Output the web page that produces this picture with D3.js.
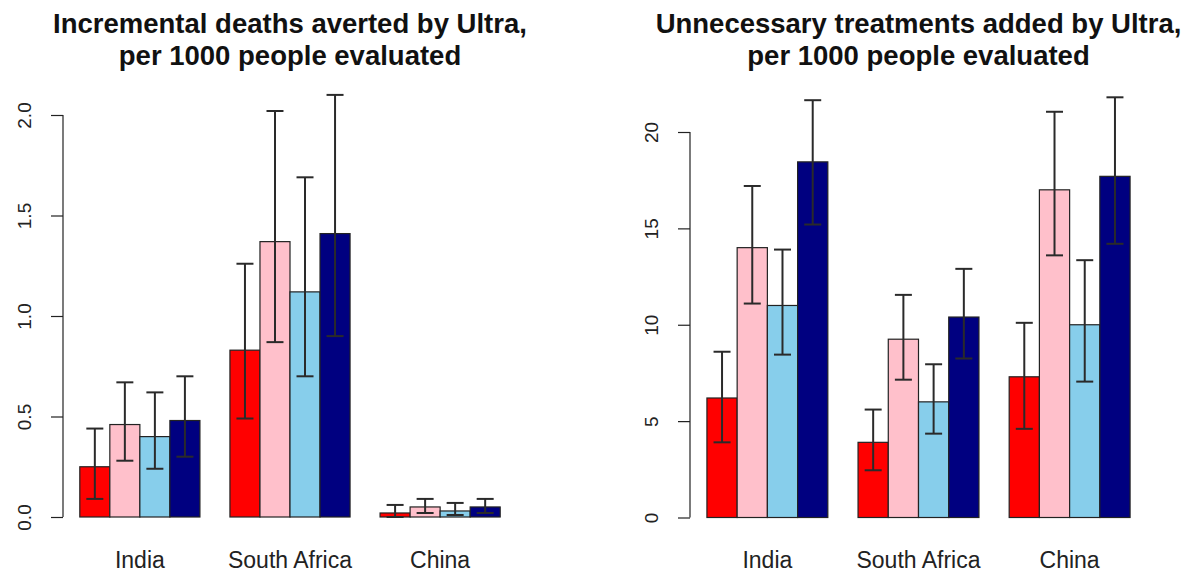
<!DOCTYPE html>
<html>
<head>
<meta charset="utf-8">
<script src="https://cdn.jsdelivr.net/npm/d3@7"></script>
<style>
  html, body { margin: 0; padding: 0; background: #fff; }
  svg { display: block; font-family: "Liberation Sans", Arial, Helvetica, sans-serif; }
</style>
</head>
<body>
<svg id="chart" width="1190" height="573"></svg>
<script>
// Countries and the four scenarios drawn side by side in each group
const countries = ["India", "South Africa", "China"];
const seriesColors = ["#ff0000", "#ffc0cb", "#87ceeb", "#000080"];

// Incremental deaths averted, per 1000 evaluated: [India, South Africa, China] per scenario
const deathsMean  = [[0.25, 0.83, 0.02], [0.46, 1.37, 0.05], [0.40, 1.12, 0.03], [0.48, 1.41, 0.05]];
const deathsLow   = [[0.09, 0.49, 0.00], [0.28, 0.87, 0.02], [0.24, 0.70, 0.01], [0.30, 0.90, 0.02]];
const deathsHigh  = [[0.44, 1.26, 0.06], [0.67, 2.02, 0.09], [0.62, 1.69, 0.07], [0.70, 2.10, 0.09]];
const deathsTicks = [0, 0.5, 1.0, 1.5, 2.0];

// Unnecessary treatments added, per 1000 evaluated
const treatMean  = [[6.2, 3.9, 7.3], [14.0, 9.25, 17.0], [11.0, 6.0, 10.0], [18.45, 10.4, 17.7]];
const treatLow   = [[3.9, 2.45, 4.6], [11.1, 7.15, 13.6], [8.45, 4.35, 7.05], [15.2, 8.25, 14.2]];
const treatHigh  = [[8.6, 5.6, 10.1], [17.2, 11.55, 21.05], [13.9, 7.95, 13.35], [21.65, 12.9, 21.8]];
const treatTicks = [0, 5, 10, 15, 20];

const svg = d3.select("#chart");

function panel(opts) {
  const g = svg.append("g");
  // bar units: each group holds 4 unit-wide bars, groups separated by one unit
  const x = d3.scaleLinear().domain([0.44, 15.56]).range([opts.left, opts.right]);
  const y = d3.scaleLinear().domain(opts.yDomain).range(opts.yRange);

  const bars = [];
  opts.mean.forEach((vals, s) => {
    vals.forEach((v, c) => {
      const x0 = 1 + c * 5 + s;
      bars.push({ s, c, x0, v, lo: opts.low[s][c], hi: opts.high[s][c] });
    });
  });

  g.selectAll("rect.bar").data(bars).enter().append("rect")
    .attr("class", "bar")
    .attr("x", d => x(d.x0))
    .attr("width", d => x(d.x0 + 1) - x(d.x0))
    .attr("y", d => y(d.v))
    .attr("height", d => y(0) - y(d.v))
    .attr("fill", d => seriesColors[d.s])
    .attr("stroke", "#222")
    .attr("stroke-width", 1.2);

  // confidence intervals
  const cap = 8.5;
  const eb = g.selectAll("g.err").data(bars).enter().append("g").attr("class", "err")
    .attr("stroke", "#2a2a2a").attr("stroke-width", 2);
  eb.append("line")
    .attr("x1", d => x(d.x0 + 0.5)).attr("x2", d => x(d.x0 + 0.5))
    .attr("y1", d => y(d.lo)).attr("y2", d => y(d.hi));
  eb.append("line")
    .attr("x1", d => x(d.x0 + 0.5) - cap).attr("x2", d => x(d.x0 + 0.5) + cap)
    .attr("y1", d => y(d.hi)).attr("y2", d => y(d.hi));
  eb.append("line")
    .attr("x1", d => x(d.x0 + 0.5) - cap).attr("x2", d => x(d.x0 + 0.5) + cap)
    .attr("y1", d => y(d.lo)).attr("y2", d => y(d.lo));

  // y axis with rotated labels
  const axis = g.append("g").attr("transform", `translate(${opts.left},0)`)
    .call(d3.axisLeft(y).tickValues(opts.ticks).tickFormat(opts.fmt).tickSize(12).tickSizeOuter(0));
  axis.select(".domain").attr("stroke", "#222").attr("stroke-width", 1.2)
    .attr("d", `M0,${y(opts.ticks[0])}V${y(opts.ticks[opts.ticks.length - 1])}`);
  axis.selectAll(".tick line").attr("stroke", "#222").attr("stroke-width", 1.2);
  axis.selectAll(".tick text")
    .attr("font-size", 19).attr("fill", "#222")
    .attr("x", 0).attr("dy", null)
    .attr("text-anchor", "middle")
    .attr("transform", `translate(${-opts.labelOffset},0) rotate(-90)`);

  // category labels
  g.selectAll("text.cat").data(countries).enter().append("text")
    .attr("class", "cat")
    .attr("x", (d, i) => x(1 + i * 5 + 2))
    .attr("y", 568)
    .attr("text-anchor", "middle")
    .attr("font-size", 23)
    .attr("fill", "#222")
    .text(d => d);

  // two-line bold title
  const t = g.append("text")
    .attr("text-anchor", "middle")
    .attr("font-size", 27.5).attr("font-weight", "bold").attr("fill", "#111");
  opts.title.forEach((line, i) => {
    t.append("tspan").attr("x", (opts.left + opts.right) / 2).attr("y", 33 + i * 32).text(line);
  });
}

panel({
  left: 63, right: 517,
  yDomain: [0, 2], yRange: [517, 115],
  ticks: deathsTicks, fmt: d3.format(".1f"),
  mean: deathsMean, low: deathsLow, high: deathsHigh,
  labelOffset: 32,
  title: ["Incremental deaths averted by Ultra,", "per 1000 people evaluated"]
});

panel({
  left: 690, right: 1147,
  yDomain: [0, 20], yRange: [517.5, 132],
  ticks: treatTicks, fmt: d3.format("d"),
  mean: treatMean, low: treatLow, high: treatHigh,
  labelOffset: 32,
  title: ["Unnecessary treatments added by Ultra,", "per 1000 people evaluated"]
});
</script>
</body>
</html>
